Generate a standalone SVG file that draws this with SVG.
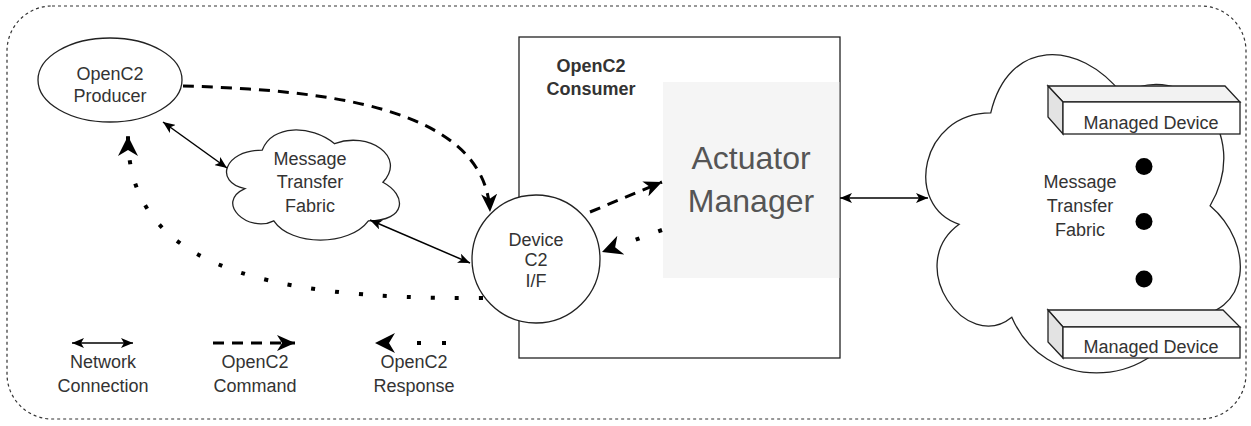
<svg xmlns="http://www.w3.org/2000/svg" width="1251" height="426" viewBox="0 0 1251 426">
<style>
.node{fill:#fff;stroke:#222;stroke-width:1.3}
.lbl{font-family:"Liberation Sans",Arial,Helvetica,sans-serif;font-size:18px;fill:#333;text-anchor:middle}
.bold{font-weight:bold}
.big{font-size:32px;fill:#555}
.net{fill:none;stroke:#000;stroke-width:1.5}
.cmd{fill:none;stroke:#000;stroke-width:3;stroke-dasharray:11 8}
.rsp{fill:none;stroke:#000;stroke-width:4;stroke-dasharray:4 20}
</style>
<defs>
<marker id="ah" viewBox="0 0 12 10" refX="12" refY="5" markerWidth="12" markerHeight="10" markerUnits="userSpaceOnUse" orient="auto-start-reverse"><path d="M0,0 L12,5 L0,10 L3,5 Z" fill="#000"/></marker>
<marker id="ahc" viewBox="0 0 18 16" refX="18" refY="8" markerWidth="18" markerHeight="16" markerUnits="userSpaceOnUse" orient="auto"><path d="M0,0 L18,8 L0,16 L5,8 Z" fill="#000"/></marker>
<marker id="ahr" viewBox="0 0 20 20" refX="20" refY="10" markerWidth="20" markerHeight="20" markerUnits="userSpaceOnUse" orient="auto"><path d="M0,0 L20,10 L0,20 L6,10 Z" fill="#000"/></marker>
</defs>

<rect id="container" x="7" y="6" width="1239" height="413" rx="45" ry="45" fill="none" stroke="#333" stroke-width="1.2" stroke-dasharray="3 3"/>

<g id="consumer">
<rect class="node" x="519" y="37" width="321" height="321"/>
<text class="lbl bold" x="591" y="72">OpenC2</text>
<text class="lbl bold" x="591" y="95">Consumer</text>
</g>

<g id="actuator-manager">
<rect x="663" y="82" width="176.3" height="196" fill="#f5f5f5"/>
<text class="lbl big" x="751" y="169">Actuator</text>
<text class="lbl big" x="751" y="212">Manager</text>
</g>

<g id="producer">
<ellipse class="node" cx="110" cy="80" rx="72" ry="42"/>
<text class="lbl" x="110" y="80">OpenC2</text>
<text class="lbl" x="110" y="102">Producer</text>
</g>

<g id="fabric-left">
<path class="node" d="M262.25,150.1 C223.65,150.1 214,182.25 244.9,188.7 C214,202.8 248.7,233.65 273.8,220.8 C291.2,246.5 349.1,246.5 368.4,220.8 C407,220.8 407,195.1 382.9,182.25 C407,156.55 368.4,130.85 334.6,143.7 C310.5,124.4 271.9,124.4 262.25,150.1 Z"/>
<text class="lbl" x="310" y="165">Message</text>
<text class="lbl" x="310" y="188">Transfer</text>
<text class="lbl" x="310" y="212">Fabric</text>
</g>

<g id="fabric-right">
<path class="node" d="M990.75,112.9 C920.55,112.9 903,205.75 959.16,224.3 C903,265.2 966.2,354.35 1011.8,317.2 C1043.4,391.5 1148.7,391.5 1183.8,317.2 C1254,317.2 1254,242.9 1210.1,205.75 C1254,131.45 1183.8,57.15 1122.4,94.3 C1078.5,38.6 1008.3,38.6 990.75,112.9 Z"/>
<text class="lbl" x="1080" y="188">Message</text>
<text class="lbl" x="1080" y="212">Transfer</text>
<text class="lbl" x="1080" y="236">Fabric</text>
<circle cx="1144" cy="166.5" r="8.5" fill="#000"/>
<circle cx="1144" cy="221.5" r="8.5" fill="#000"/>
<circle cx="1144" cy="279" r="8.5" fill="#000"/>
</g>

<g id="managed-device-1">
<path d="M1048,86 L1225,86 L1240,102 L1063,102 Z" fill="#f2f2f2" stroke="#222" stroke-width="1.3"/>
<path d="M1048,86 L1063,102 L1063,134 L1048,117 Z" fill="#e3e3e3" stroke="#222" stroke-width="1.3"/>
<rect class="node" x="1063" y="102" width="177" height="32"/>
<text class="lbl" x="1151" y="129">Managed Device</text>
</g>

<g id="managed-device-2">
<path d="M1048,310 L1223,310 L1240,327 L1063,327 Z" fill="#f2f2f2" stroke="#222" stroke-width="1.3"/>
<path d="M1048,310 L1063,327 L1063,358 L1048,342 Z" fill="#e3e3e3" stroke="#222" stroke-width="1.3"/>
<rect class="node" x="1063" y="327" width="177" height="31"/>
<text class="lbl" x="1151" y="353">Managed Device</text>
</g>

<g id="device-c2">
<circle class="node" cx="536" cy="259" r="64"/>
<text class="lbl" x="536" y="246">Device</text>
<text class="lbl" x="536" y="266">C2</text>
<text class="lbl" x="536" y="287">I/F</text>
</g>

<g id="connectors">
<path class="net" d="M163,122 L227,168" marker-start="url(#ah)" marker-end="url(#ah)"/>
<path class="net" d="M370,220 L470,263" marker-start="url(#ah)" marker-end="url(#ah)"/>
<path class="net" d="M840,198 L928,198" marker-start="url(#ah)" marker-end="url(#ah)"/>
<path class="cmd" d="M183,86 C320,90 485,105 490,212" marker-end="url(#ahc)"/>
<path class="cmd" d="M590,212 L662,182" marker-end="url(#ahc)"/>
<path class="rsp" d="M483,298 C250,300 128,260 128,136" marker-end="url(#ahr)"/>
<path class="rsp" d="M662,230 L602,252" style="stroke-dasharray:4 20 4 100" marker-end="url(#ahr)"/>
</g>

<g id="legend">
<path class="net" d="M72,343 L133,343" marker-start="url(#ah)" marker-end="url(#ah)"/>
<text class="lbl" x="103" y="368">Network</text>
<text class="lbl" x="103" y="392">Connection</text>
<path class="cmd" d="M213,343 L295,343" marker-end="url(#ahc)"/>
<text class="lbl" x="255" y="368">OpenC2</text>
<text class="lbl" x="255" y="392">Command</text>
<path class="rsp" d="M446,343 L375,343" style="stroke-dasharray:4 21 4 100" marker-end="url(#ahr)"/>
<text class="lbl" x="414" y="368">OpenC2</text>
<text class="lbl" x="414" y="392">Response</text>
</g>
</svg>
